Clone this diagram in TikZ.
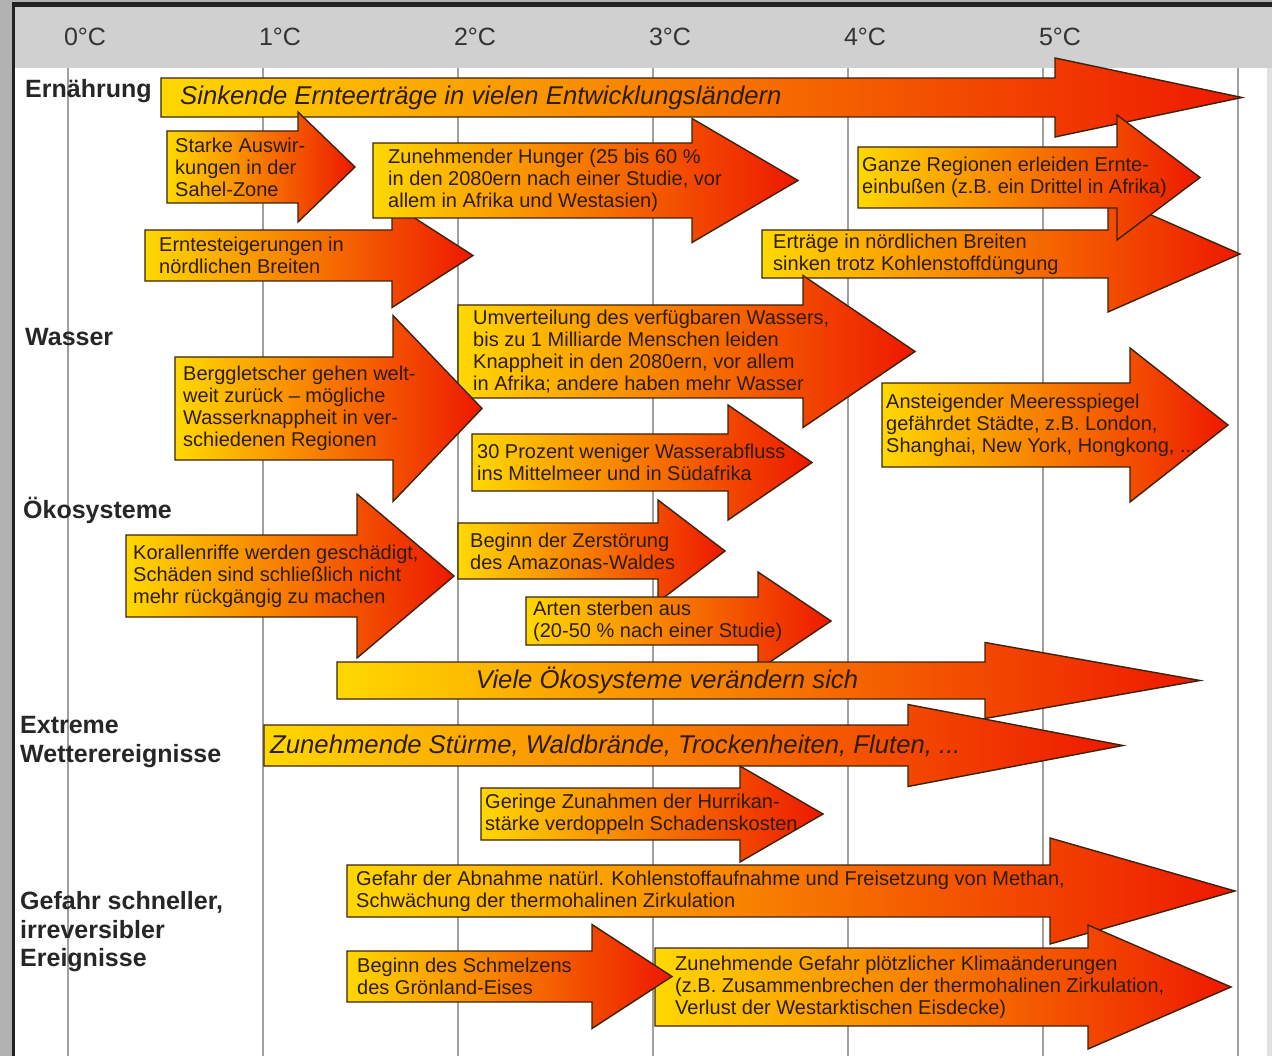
\documentclass[tikz,border=0pt]{standalone}
\usepackage{fontspec}
\setmainfont{Liberation Sans}
\usepackage{xcolor}
\usepackage{tikz}

\definecolor{heatyellow}{RGB}{255,216,0}
\definecolor{heatred}{RGB}{238,24,0}
\definecolor{heatline}{RGB}{60,35,10}
\definecolor{inktext}{RGB}{45,28,8}
\definecolor{gridgray}{RGB}{160,160,160}
\definecolor{headgray}{RGB}{208,208,208}
\definecolor{framedark}{RGB}{35,35,35}
\definecolor{framegray}{RGB}{178,178,178}

% #1 text style, #2 name, #3 body left, #4 head base, #5 tip, #6 mid y,
% #7 body half height, #8 head half height, #9 text
\newcommand{\heatarrow}[9]{%
  \path[heat] (#3,#6-#7) -- (#4,#6-#7) -- (#4,#6-#8) -- (#5,#6)
    -- (#4,#6+#8) -- (#4,#6+#7) -- (#3,#6+#7) -- cycle;
  \node[anchor=west, #1] (#2) at (#3,#6) {#9};
}

\begin{document}
\begin{tikzpicture}[
  x=1pt, y=-1pt,
  heat/.style={draw=heatline, line width=1.4pt, line join=miter,
               left color=heatyellow, right color=heatred},
  note/.style={font=\fontsize{20}{22}\selectfont, text=inktext,
               align=left, inner sep=0pt},
  big/.style={font=\fontsize{25.7}{30}\selectfont\itshape, text=inktext,
              inner sep=0pt},
  rowlabel/.style={font=\fontsize{25}{28.5}\selectfont\bfseries,
                   text=black!85, align=left, inner sep=0pt, anchor=west},
  degree/.style={font=\fontsize{25}{30}\selectfont, text=black!80},
  grid/.style={draw=gridgray, line width=1.5pt}
]
\useasboundingbox (0,0) rectangle (1272,1056);

% frame and header
\fill[white] (0,0) rectangle (1272,1056);
\fill[framegray] (0,0) rectangle (12,1056);
\fill[framegray] (0,0) rectangle (1272,2);
\fill[framedark] (12,2) rectangle (15,1056);
\fill[framedark] (12,2) rectangle (1272,7);
\fill[headgray] (15,7) rectangle (1272,68);
\fill[black!12] (1267,68) rectangle (1272,1056);

\foreach \t in {0,...,6}
  \draw[grid] (68+195*\t,68) -- (68+195*\t,1056);
\foreach \t in {0,...,5}
  \node[degree] (deg\t) at (85+195*\t,37) {\t°C};

% row labels
\node[rowlabel] (food) at (25,91) {Ernährung};
\node[rowlabel] (water) at (25,337) {Wasser};
\node[rowlabel] (eco) at (23,510) {Ökosysteme};
\node[rowlabel] (weather) at (20,742) {Extreme\\Wetterereignisse};
\node[rowlabel] (abrupt) at (20,932) {Gefahr schneller,\\irreversibler\\Ereignisse};

% Ernaehrung
\heatarrow{big,xshift=19}{yield}{161}{1055}{1242}{97.5}{19.5}{39.5}
  {Sinkende Ernteerträge in vielen Entwicklungsländern}
\heatarrow{note,xshift=11}{north}{762}{1108}{1240}{254}{24}{58}
  {Erträge in nördlichen Breiten\\sinken trotz Kohlenstoffdüngung}
\heatarrow{note,xshift=4}{regions}{858}{1117}{1200}{177.5}{30.5}{62.5}
  {Ganze Regionen erleiden Ernte-\\einbußen (z.B. ein Drittel in Afrika)}
\heatarrow{note,xshift=8}{sahel}{167}{298}{355}{167}{36}{55}
  {Starke Auswir-\\kungen in der\\Sahel-Zone}
\heatarrow{note,xshift=14}{gain}{145}{392}{473}{255.5}{25.5}{52}
  {Erntesteigerungen in\\nördlichen Breiten}
\heatarrow{note,xshift=15}{hunger}{373}{692}{798}{180.5}{37.5}{62}
  {Zunehmender Hunger (25 bis 60 \%\\in den 2080ern nach einer Studie, vor\\allem in Afrika und Westasien)}

% Wasser
\heatarrow{note,xshift=15}{shift}{458}{803}{915}{351.5}{46.5}{76}
  {Umverteilung des verfügbaren Wassers,\\bis zu 1 Milliarde Menschen leiden\\Knappheit in den 2080ern, vor allem\\in Afrika; andere haben mehr Wasser}
\heatarrow{note,xshift=8}{glacier}{175}{393}{482}{408.5}{51.5}{93}
  {Berggletscher gehen welt-\\weit zurück – mögliche\\Wasserknappheit in ver-\\schiedenen Regionen}
\heatarrow{note,xshift=5}{runoff}{472}{728}{812}{462.5}{28.5}{57.5}
  {30 Prozent weniger Wasserabfluss\\ins Mittelmeer und in Südafrika}
\heatarrow{note,xshift=4}{sea}{882}{1130}{1228}{425}{42}{77}
  {Ansteigender Meeresspiegel\\gefährdet Städte, z.B. London,\\Shanghai, New York, Hongkong, ...}

% Oekosysteme
\heatarrow{note,xshift=7}{coral}{126}{357}{454}{576}{41}{82}
  {Korallenriffe werden geschädigt,\\Schäden sind schließlich nicht\\mehr rückgängig zu machen}
\heatarrow{note,xshift=12}{amazon}{458}{658}{725}{551}{28}{51}
  {Beginn der Zerstörung\\des Amazonas-Waldes}
\heatarrow{note,xshift=7}{species}{526}{758}{831}{621}{24}{49}
  {Arten sterben aus\\(20-50 \% nach einer Studie)}
\heatarrow{big,anchor=center,xshift=330}{change}{337}{985}{1200}{680.5}{18.5}{38}
  {Viele Ökosysteme verändern sich}

% Extreme Wetterereignisse
\heatarrow{big,xshift=6}{storms}{264}{908}{1123}{745.5}{20.5}{41}
  {Zunehmende Stürme, Waldbrände, Trockenheiten, Fluten, ...}
\heatarrow{note,xshift=4}{hurricane}{481}{740}{823}{814}{26}{48}
  {Geringe Zunahmen der Hurrikan-\\stärke verdoppeln Schadenskosten}

% Gefahr schneller, irreversibler Ereignisse
\heatarrow{note,xshift=9}{carbon}{347}{1050}{1235}{891}{26}{53}
  {Gefahr der Abnahme natürl. Kohlenstoffaufnahme und Freisetzung von Methan,\\Schwächung der thermohalinen Zirkulation}
\heatarrow{note,xshift=20}{abruptrisk}{655}{1088}{1231}{987}{39}{62}
  {Zunehmende Gefahr plötzlicher Klimaänderungen\\(z.B. Zusammenbrechen der thermohalinen Zirkulation,\\Verlust der Westarktischen Eisdecke)}
\heatarrow{note,xshift=10}{greenland}{347}{592}{672}{976.5}{25.5}{52}
  {Beginn des Schmelzens\\des Grönland-Eises}
\end{tikzpicture}
\end{document}
